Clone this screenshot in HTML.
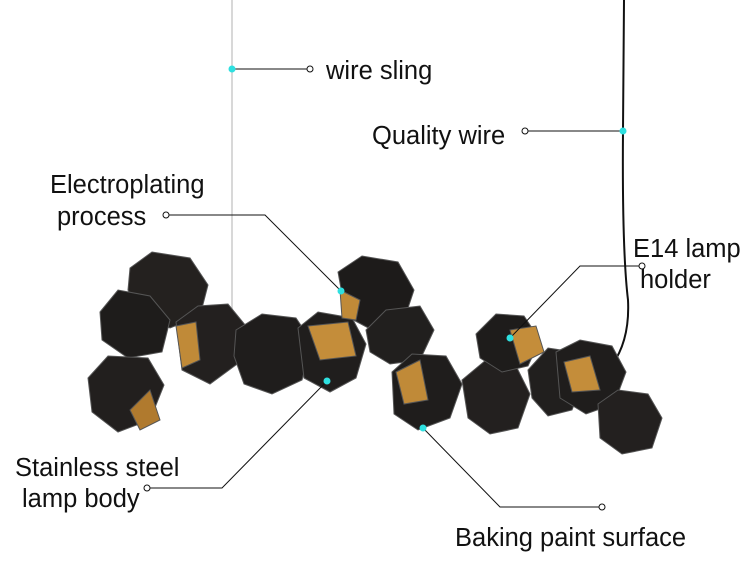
<!DOCTYPE html>
<html><head><meta charset="utf-8"><style>
html,body{margin:0;padding:0;background:#fff;}
svg{display:block}
text{font-family:"Liberation Sans",sans-serif;font-size:25.5px;fill:#111}
</style></head><body>
<svg width="752" height="566" viewBox="0 0 752 566" xmlns="http://www.w3.org/2000/svg">
<rect width="752" height="566" fill="#fff"/>
<line x1="232" y1="0" x2="232" y2="312" stroke="#ccc" stroke-width="1.5"/>
<path d="M624 0 L623 130 Q622 250 628 300 Q630 340 612 365" stroke="#111" stroke-width="2" fill="none"/>
<g stroke="#555" stroke-width="1">
<polygon points="130,268 152,252 190,258 208,285 200,316 170,328 140,314 128,290" fill="#24211f"/>
<polygon points="100,312 118,290 150,296 170,320 162,352 128,358 102,340" fill="#1e1c1b"/>
<polygon points="88,378 108,356 148,358 164,385 150,420 118,432 92,412" fill="#221f1e"/>
<polygon points="130,410 150,390 160,420 140,430" fill="#b07a2e"/>
<polygon points="176,322 198,306 228,304 246,326 240,362 210,384 182,370" fill="#23201f"/>
<polygon points="176,326 196,322 200,360 182,368" fill="#c08a38"/>
<polygon points="236,330 262,314 296,318 312,342 302,380 272,394 244,384 234,356" fill="#1f1d1c"/>
<polygon points="298,328 318,312 352,318 366,344 356,378 330,392 304,378" fill="#201e1d"/>
<polygon points="308,326 348,322 356,356 320,360" fill="#c48d3a"/>
<polygon points="338,272 362,256 398,262 414,290 404,320 372,330 346,316" fill="#1d1b1a"/>
<polygon points="340,290 360,300 356,320 342,318" fill="#c08a38"/>
<polygon points="366,330 386,310 420,306 434,330 420,360 390,364 370,352" fill="#211f1e"/>
<polygon points="392,372 412,354 446,356 462,384 450,418 418,430 394,414" fill="#1f1d1c"/>
<polygon points="396,372 420,360 428,400 404,404" fill="#c08a38"/>
<polygon points="462,380 486,360 516,366 530,394 518,428 490,434 468,418" fill="#23201f"/>
<polygon points="476,334 496,314 524,316 540,340 528,366 502,372 480,358" fill="#1e1c1b"/>
<polygon points="510,330 536,326 544,352 520,364" fill="#c48d3a"/>
<polygon points="528,370 548,348 574,352 584,380 572,410 548,416 532,398" fill="#211f1e"/>
<polygon points="556,352 580,340 612,346 626,372 614,404 586,414 560,398" fill="#1f1d1c"/>
<polygon points="564,362 590,356 600,390 572,392" fill="#c48d3a"/>
<polygon points="598,404 618,390 648,394 662,418 652,448 622,454 600,438" fill="#23201f"/>
</g>
<g stroke="#111" stroke-width="1" fill="none">
<line x1="232" y1="69" x2="307" y2="69"/>
<line x1="623" y1="131" x2="528" y2="131"/>
<polyline points="169,215 265,215 341,291"/>
<polyline points="639,266 580,266 510,338"/>
<polyline points="150,488 222,488 327,381"/>
<polyline points="423,428 500,507 599,507"/>
</g>
<g fill="#fff" stroke="#111" stroke-width="1">
<circle cx="310" cy="69" r="3"/><circle cx="525" cy="131" r="3"/><circle cx="166" cy="215" r="3"/>
<circle cx="642" cy="266" r="3"/><circle cx="147" cy="488" r="3"/><circle cx="602" cy="507" r="3"/>
</g>
<g fill="#2ee0e0">
<circle cx="232" cy="69" r="3.5"/><circle cx="623" cy="131" r="3.5"/><circle cx="341" cy="291" r="3.5"/>
<circle cx="510" cy="338" r="3.5"/><circle cx="327" cy="381" r="3.5"/><circle cx="423" cy="428" r="3.5"/>
</g>
<text x="326" y="79">wire sling</text>
<text x="372" y="144">Quality wire</text>
<text x="50" y="193">Electroplating</text>
<text x="57" y="225">process</text>
<text x="633" y="257">E14 lamp</text>
<text x="640" y="288">holder</text>
<text x="15" y="476">Stainless steel</text>
<text x="22" y="507">lamp body</text>
<text x="455" y="546">Baking paint surface</text>
</svg>
</body></html>
